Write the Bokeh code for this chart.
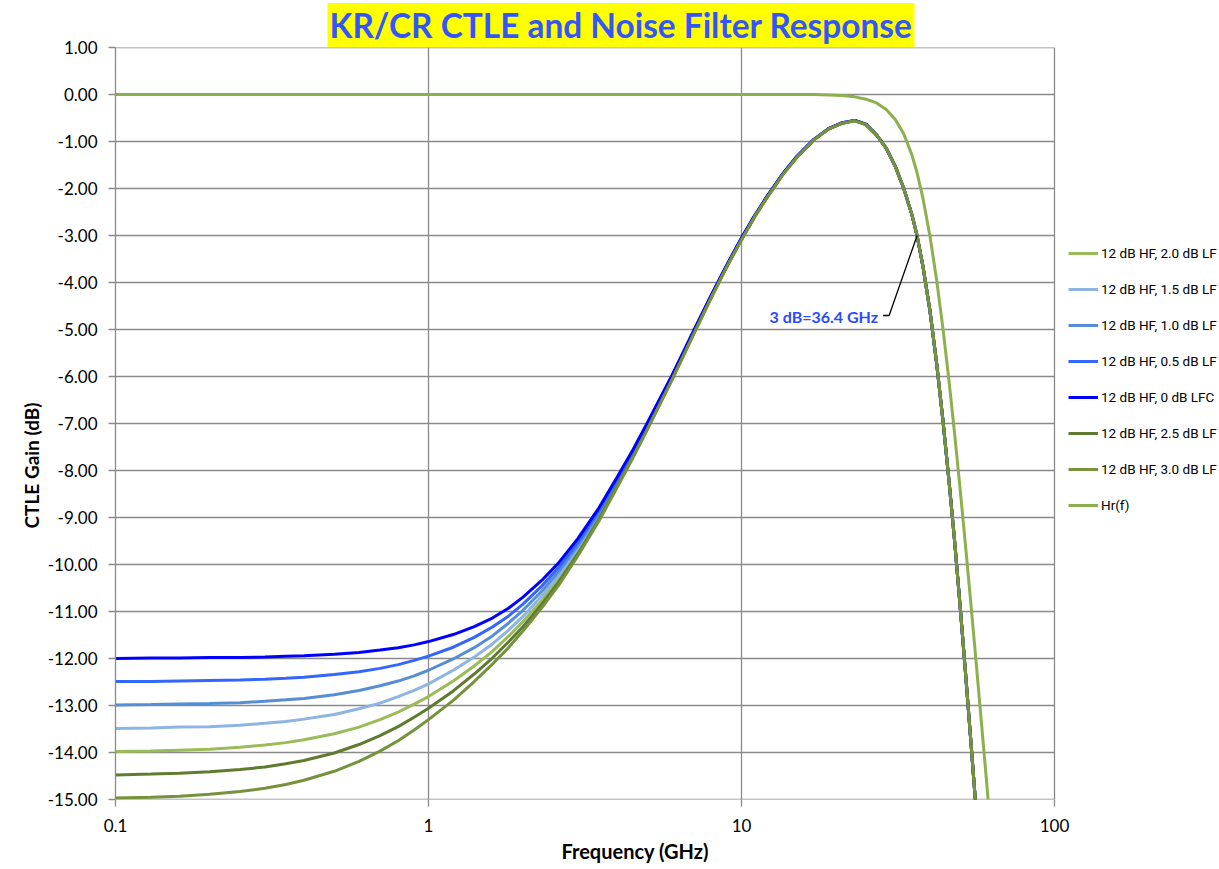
import math
from bokeh.plotting import figure
from bokeh.models import (FixedTicker, PrintfTickFormatter, CustomJSTickFormatter,
                          Legend, LegendItem, Label, ColumnDataSource, Title)
from bokeh.embed import file_html
from bokeh.resources import INLINE

# ---------------- data ----------------
freq_ghz = [0.1, 0.13, 0.16, 0.2, 0.25, 0.3, 0.35, 0.4, 0.5, 0.6, 0.7, 0.8, 0.9, 1.0,
            1.2, 1.4, 1.6, 1.8, 2.0, 2.3, 2.6, 3.0, 3.5, 4.0, 4.5, 5.0, 6.0, 7.0, 8.0,
            9.0, 10, 11, 12, 13.5, 15, 17, 19, 21, 23, 25, 27, 29, 31, 33, 35, 36.4,
            38, 40, 42, 44, 46, 48, 50, 52, 54, 56, 58, 60, 62, 64]

tail = [-0.86, -1.14, -1.53, -2.00, -2.55, -3.01, -3.66, -4.60, -5.71, -6.93, -8.21,
        -9.53, -10.93, -12.33, -13.73, -15.11, -16.47, -17.80, -19.11, -20.38]

lf_0_0 = [-12.00, -11.99, -11.99, -11.98, -11.98, -11.97, -11.95, -11.94, -11.91, -11.87,
          -11.82, -11.77, -11.71, -11.64, -11.49, -11.32, -11.14, -10.93, -10.70, -10.34,
          -9.97, -9.45, -8.80, -8.15, -7.56, -6.99, -5.97, -5.05, -4.27, -3.61, -3.05,
          -2.58, -2.19, -1.70, -1.32, -0.96, -0.72, -0.60, -0.55, -0.63] + tail
lf_0_5 = [-12.49, -12.49, -12.48, -12.47, -12.46, -12.44, -12.42, -12.40, -12.34, -12.28,
          -12.21, -12.13, -12.04, -11.95, -11.76, -11.55, -11.33, -11.10, -10.85, -10.46,
          -10.07, -9.53, -8.86, -8.20, -7.59, -7.02, -5.99, -5.07, -4.28, -3.62, -3.06,
          -2.59, -2.20, -1.70, -1.33, -0.96, -0.73, -0.60, -0.55, -0.64] + tail
lf_1_0 = [-12.99, -12.98, -12.97, -12.96, -12.94, -12.91, -12.88, -12.85, -12.77, -12.68,
          -12.58, -12.48, -12.37, -12.25, -12.01, -11.77, -11.52, -11.25, -10.98, -10.57,
          -10.16, -9.60, -8.91, -8.24, -7.63, -7.05, -6.01, -5.09, -4.29, -3.63, -3.07,
          -2.60, -2.20, -1.71, -1.33, -0.96, -0.73, -0.61, -0.55, -0.64] + tail
lf_1_5 = [-13.49, -13.48, -13.46, -13.45, -13.42, -13.38, -13.34, -13.29, -13.19, -13.07,
          -12.95, -12.81, -12.68, -12.54, -12.25, -11.97, -11.69, -11.40, -11.11, -10.67,
          -10.24, -9.66, -8.96, -8.28, -7.66, -7.07, -6.03, -5.10, -4.30, -3.63, -3.08,
          -2.60, -2.21, -1.71, -1.33, -0.97, -0.73, -0.61, -0.55, -0.64] + tail
lf_2_0 = [-13.98, -13.97, -13.95, -13.93, -13.89, -13.84, -13.79, -13.73, -13.60, -13.46,
          -13.30, -13.14, -12.97, -12.81, -12.48, -12.16, -11.85, -11.53, -11.22, -10.77,
          -10.32, -9.72, -9.00, -8.31, -7.69, -7.10, -6.05, -5.11, -4.31, -3.64, -3.08,
          -2.61, -2.21, -1.71, -1.34, -0.97, -0.73, -0.61, -0.55, -0.64] + tail
lf_2_5 = [-14.48, -14.46, -14.44, -14.41, -14.36, -14.31, -14.24, -14.17, -14.01, -13.83,
          -13.64, -13.45, -13.25, -13.06, -12.69, -12.33, -11.99, -11.65, -11.33, -10.85,
          -10.38, -9.77, -9.04, -8.34, -7.71, -7.12, -6.06, -5.12, -4.32, -3.65, -3.09,
          -2.61, -2.21, -1.72, -1.34, -0.97, -0.73, -0.61, -0.56, -0.64] + tail
lf_3_0 = [-14.97, -14.95, -14.93, -14.89, -14.83, -14.76, -14.68, -14.59, -14.40, -14.19,
          -13.97, -13.75, -13.52, -13.30, -12.89, -12.49, -12.12, -11.77, -11.42, -10.92,
          -10.45, -9.82, -9.08, -8.37, -7.73, -7.13, -6.07, -5.13, -4.33, -3.65, -3.09,
          -2.61, -2.22, -1.72, -1.34, -0.97, -0.73, -0.61, -0.56, -0.64] + tail
hr_f = [0.00] * 36 + [-0.01, -0.02, -0.05, -0.10, -0.18, -0.32, -0.53, -0.84, -1.28,
                      -1.67, -2.21, -3.01, -3.94, -4.97, -6.08, -7.24, -8.43, -9.62,
                      -10.80, -11.97, -13.13, -14.25, -15.35, -16.43]

series_labels = ["12 dB HF, 2.0 dB LF", "12 dB HF, 1.5 dB LF", "12 dB HF, 1.0 dB LF",
                 "12 dB HF, 0.5 dB LF", "12 dB HF, 0 dB LFC", "12 dB HF, 2.5 dB LF",
                 "12 dB HF, 3.0 dB LF", "Hr(f)"]
series_values = [lf_2_0, lf_1_5, lf_1_0, lf_0_5, lf_0_0, lf_2_5, lf_3_0, hr_f]
series_colors = ["#9BBB59", "#8DB4E2", "#558ED5", "#3366FF", "#0000FF", "#5F7B2F",
                 "#76923C", "#8DB04F"]

x_ticks = [0.1, 1, 10, 100]
y_ticks = list(range(-15, 2))

marker_f, marker_db = 36.4, -3.0
marker_text = "3 dB=36.4 GHz"
title_text = "KR/CR CTLE and Noise Filter Response"
x_title = "Frequency (GHz)"
y_title = "CTLE Gain (dB)"

# ---------------- layout (pixels) ----------------
W, H = 1219, 869
LEFT, TOP, PLOT_BOTTOM = 115, 47, 799
PX_PER_DECADE = 313.0
PX_PER_DB = (PLOT_BOTTOM - TOP) / (y_ticks[-1] - y_ticks[0])
frame_w = W - LEFT
x_end = x_ticks[0] * 10 ** (frame_w / PX_PER_DECADE)   # frame also hosts the legend area

p = figure(width=W, height=H, x_axis_type="log", x_range=(x_ticks[0], x_end),
           y_range=(y_ticks[0], y_ticks[-1]),
           output_backend="svg", toolbar_location=None,
           min_border_left=LEFT, min_border_right=0, min_border_top=TOP,
           min_border_bottom=H - PLOT_BOTTOM)
p.outline_line_color = None

p.title = Title(text=title_text, align="left", offset=212, text_font="Lato",
                text_font_style="bold", text_font_size="33.4px", text_color="#3355FF",
                background_fill_color="#FFFF00", padding=2, standoff=1)

grid_col = "#8A8A8A"
p.xgrid.grid_line_color = grid_col
p.xgrid.grid_line_width = 1.3
p.ygrid.grid_line_color = None
# horizontal gridlines only across the chart area (0.1 .. 100 GHz)
p.segment(x0=[x_ticks[0]] * len(y_ticks), x1=[x_ticks[-1]] * len(y_ticks),
          y0=y_ticks, y1=y_ticks, line_color=grid_col, line_width=1.3)

p.xaxis.ticker = FixedTicker(ticks=x_ticks, minor_ticks=[])
p.yaxis.ticker = FixedTicker(ticks=y_ticks, minor_ticks=[])
p.xaxis.formatter = CustomJSTickFormatter(code="return String(tick)")
p.yaxis.formatter = PrintfTickFormatter(format="%.2f")
for ax in (p.xaxis, p.yaxis):
    ax.axis_line_color = grid_col
    ax.axis_line_width = 1.3
    ax.major_tick_line_color = grid_col
    ax.major_tick_line_width = 1.3
    ax.major_tick_out = 7
    ax.major_tick_in = 0
    ax.minor_tick_line_color = None
    ax.major_label_text_font = "Lato"
    ax.major_label_text_font_size = "17px"
    ax.major_label_text_color = "#000000"
p.xaxis.axis_line_color = None
p.yaxis.major_label_standoff = 11
p.xaxis.major_label_standoff = 12

# axis titles placed as side titles so they can sit where the reference has them
p.add_layout(Title(text=x_title, align="left", offset=561 - LEFT, text_font="Lato",
                   text_font_style="bold", text_font_size="20px", text_color="#000000",
                   standoff=4), "below")
p.add_layout(Title(text=y_title, align="left", offset=PLOT_BOTTOM - 528, text_font="Lato",
                   text_font_style="bold", text_font_size="19px", text_color="#000000",
                   standoff=4), "left")

items = []
for lab, vals, col in zip(series_labels, series_values, series_colors):
    src = ColumnDataSource(dict(f=freq_ghz, db=vals))
    r = p.line("f", "db", source=src, line_color=col, line_width=3)
    items.append(LegendItem(label=lab, renderers=[r]))

legend = Legend(items=items, location=(1068 - LEFT, PLOT_BOTTOM - 513),
                orientation="vertical",
                glyph_width=30, glyph_height=14, label_height=14, spacing=20,
                label_standoff=3, padding=0, margin=0,
                label_text_font="Roboto", label_text_font_size="13.5px",
                label_text_color="#000000", border_line_color=None,
                background_fill_alpha=0)
p.add_layout(legend, "center")

# annotation leader line (pixel offsets from the marked point)
def off(dx_px, dy_px):
    return marker_f * 10 ** (dx_px / PX_PER_DECADE), marker_db + dy_px / PX_PER_DB
pts = [off(-34, -80), off(-28, -80), off(0, 0)]
p.line([q[0] for q in pts], [q[1] for q in pts], line_color="#000000", line_width=1.3)
p.add_layout(Label(x=marker_f, y=marker_db, x_offset=-39, y_offset=-81, text=marker_text,
                   text_align="right", text_baseline="middle", text_font="Lato",
                   text_font_style="bold", text_font_size="16px", text_color="#2A4BFF"))

open("out.html", "w").write(file_html(p, INLINE))
